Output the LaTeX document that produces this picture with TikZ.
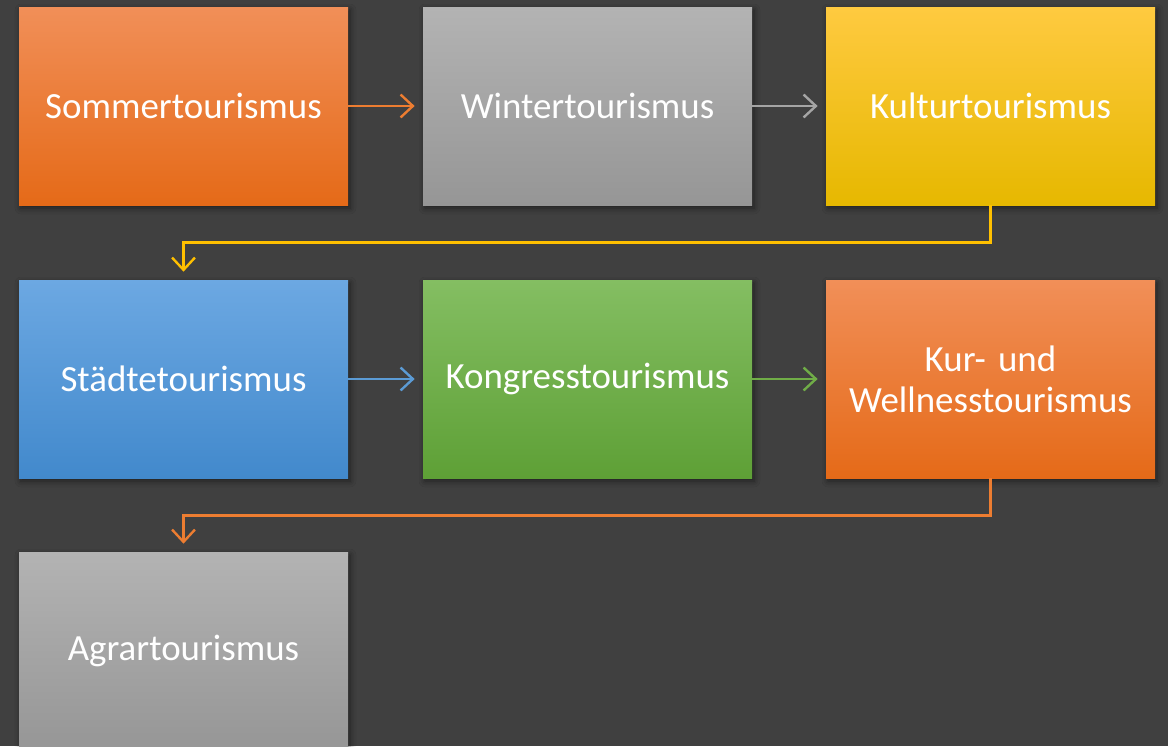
\documentclass[tikz,border=0pt]{standalone}
\usepackage{fontspec}
\setmainfont{Carlito}
\usetikzlibrary{arrows.meta,shadows.blur}
\definecolor{bgdark}{RGB}{64,64,64}
\definecolor{orangetop}{RGB}{241,143,88}
\definecolor{orangebot}{RGB}{229,106,24}
\definecolor{graytop}{RGB}{179,179,179}
\definecolor{graybot}{RGB}{150,150,150}
\definecolor{yellowtop}{RGB}{255,202,64}
\definecolor{yellowbot}{RGB}{230,184,0}
\definecolor{bluetop}{RGB}{108,168,226}
\definecolor{bluebot}{RGB}{66,137,204}
\definecolor{greentop}{RGB}{132,190,98}
\definecolor{greenbot}{RGB}{94,160,54}
\definecolor{orangeline}{RGB}{237,125,49}
\definecolor{grayline}{RGB}{165,165,165}
\definecolor{yellowline}{RGB}{255,192,0}
\definecolor{blueline}{RGB}{91,155,213}
\definecolor{greenline}{RGB}{112,173,71}
\begin{document}
\begin{tikzpicture}[
    tbox/.style={minimum width=6.58cm, minimum height=3.96cm, inner sep=0pt,
        text=white, align=center, text width=6.3cm,
        font=\fontsize{21}{23.5}\selectfont,
        blur shadow={shadow xshift=0.04cm, shadow yshift=-0.06cm, shadow blur radius=0.12cm, shadow opacity=50}},
    flow/.style={line width=1.35pt, -{Straight Barb[length=7pt, width=13pt, line width=1.35pt]}, shorten >=0.16cm}]
    \fill[bgdark] (0,0) rectangle (23.36,-14.92);
    \useasboundingbox (0,0) rectangle (23.36,-14.92);
    \node[tbox, top color=orangetop, bottom color=orangebot] (sommer) at (3.67,-2.12) {Sommertourismus};
    \node[tbox, top color=graytop, bottom color=graybot] (winter) at (11.75,-2.12) {Wintertourismus};
    \node[tbox, top color=yellowtop, bottom color=yellowbot] (kultur) at (19.81,-2.12) {Kulturtourismus};
    \node[tbox, top color=bluetop, bottom color=bluebot] (staedte) at (3.67,-7.58) {Städtetourismus};
    \node[tbox, top color=greentop, bottom color=greenbot] (kongress) at (11.75,-7.58) {Kongresstourismus};
    \node[tbox, top color=orangetop, bottom color=orangebot] (kur) at (19.81,-7.58) {Kur- und\\Wellnesstourismus};
    \node[tbox, top color=graytop, bottom color=graybot] (agrar) at (3.67,-13.02) {Agrartourismus};
    \draw[flow, orangeline] (sommer.east) -- (winter.west);
    \draw[flow, grayline] (winter.east) -- (kultur.west);
    \draw[flow, yellowline] (kultur.south) -- ++(0,-0.74) -| (staedte.north);
    \draw[flow, blueline] (staedte.east) -- (kongress.west);
    \draw[flow, greenline] (kongress.east) -- (kur.west);
    \draw[flow, orangeline] (kur.south) -- ++(0,-0.74) -| (agrar.north);
\end{tikzpicture}
\end{document}
